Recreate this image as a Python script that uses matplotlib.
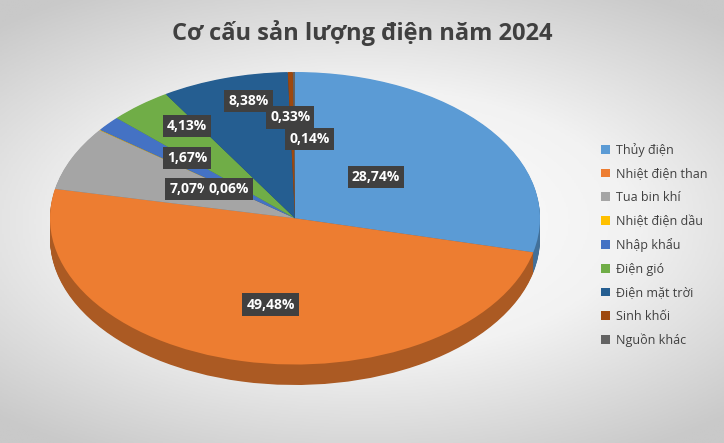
import numpy as np
import matplotlib.pyplot as plt
from matplotlib.patches import Patch
import matplotlib.colors as mcolors

plt.rcParams['font.family'] = ['Open Sans', 'DejaVu Sans']

categories = ['Thủy điện', 'Nhiệt điện than', 'Tua bin khí', 'Nhiệt điện dầu',
              'Nhập khẩu', 'Điện gió', 'Điện mặt trời', 'Sinh khối', 'Nguồn khác']
shares = [28.74, 49.48, 7.07, 0.06, 1.67, 4.13, 8.38, 0.33, 0.14]
colors = ['#5B9BD5', '#ED7D31', '#A5A5A5', '#FFC000', '#4472C4',
          '#70AD47', '#255E91', '#9E480E', '#636363']
# label box positions in pie units (x, y)
label_pos = [(0.33, 0.28), (-0.10, -0.59), (-0.43, 0.20), (-0.27, 0.20),
             (-0.44, 0.41), (-0.44, 0.63), (-0.19, 0.80), (-0.02, 0.69), (0.06, 0.54)]

fig = plt.figure(figsize=(7.24, 4.43), dpi=100)

# radial gradient background
bg = fig.add_axes([0, 0, 1, 1])
yy, xx = np.mgrid[-1:1:300j, -1:1:400j]
r = np.sqrt((xx / 1.1) ** 2 + (yy / 0.9) ** 2)
cmap = mcolors.LinearSegmentedColormap.from_list('bg', ['#ffffff', '#f2f2f2', '#c9c9c9'])
bg.imshow(r, cmap=cmap, aspect='auto', extent=[0, 1, 0, 1], vmin=0, vmax=1.35)
bg.axis('off')

ax = fig.add_axes([50 / 724, 58 / 443, 490 / 724, 313 / 443])
depth = 0.14
darker = [tuple(c * 0.72 for c in mcolors.to_rgb(col)) for col in colors]
for off in np.linspace(depth, 0.005, 25):
    ax.pie(shares, colors=darker, startangle=90, counterclock=False,
           center=(0, -off), radius=1)
ax.pie(shares, colors=colors, startangle=90, counterclock=False,
       wedgeprops=dict(edgecolor='none'))
ax.set_aspect('auto')
ax.set_xlim(-1.0, 1.0)
ax.set_ylim(-1 - depth, 1.0)
ax.axis('off')

for (x, y), v in zip(label_pos, shares):
    ax.text(x, y, f'{v:.2f}%'.replace('.', ','), ha='center', va='center',
            color='white', fontsize=10, fontweight='bold',
            bbox=dict(boxstyle='square,pad=0.3', facecolor='#404040', edgecolor='none'))

fig.text(0.5, 0.925, 'Cơ cấu sản lượng điện năm 2024', ha='center', va='center',
         fontsize=17, fontweight='bold', color='#404040')

handles = [Patch(facecolor=c, edgecolor='none') for c in colors]
fig.legend(handles, categories, loc='center left', bbox_to_anchor=(0.815, 0.447),
           frameon=False, fontsize=9, labelcolor='#404040', handlelength=0.7,
           handleheight=0.7, labelspacing=0.85, handletextpad=0.5)

fig.savefig('out.png', dpi=100)
